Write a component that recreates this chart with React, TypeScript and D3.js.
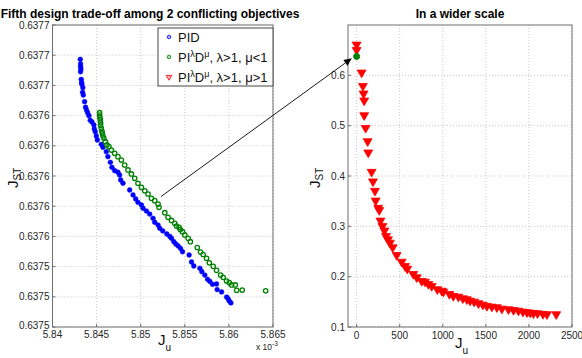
import React from "react";
import * as d3 from "d3";

// ---------- data (x in units of 1e-3 for the left panel) ----------
const pidX = [5.84315,5.84318,5.84318,5.84322,5.84318,5.84326,5.84330,5.84333,5.84344,5.84341,5.84349,5.84364,5.84375,5.84386,5.84398,5.84413,5.84428,5.84447,5.84469,5.84474,5.84485,5.84497,5.84508,5.84553,5.84572,5.84610,5.84628,5.84656,5.84674,5.84705,5.84742,5.84761,5.84773,5.84799,5.84875,5.84913,5.84943,5.84969,5.85008,5.85026,5.85065,5.85102,5.85140,5.85159,5.85197,5.85216,5.85250,5.85296,5.85330,5.85349,5.85375,5.85398,5.85424,5.85451,5.85474,5.85549,5.85576,5.85602,5.85671,5.85693,5.85727,5.85758,5.85784,5.85815,5.85860,5.85867,5.85917,5.85974,5.85992,5.86004,5.86023];
const pidY = [0.6376716,0.6376677,0.6376655,0.6376636,0.6376613,0.6376550,0.6376526,0.6376509,0.6376481,0.6376443,0.6376420,0.6376365,0.6376319,0.6376296,0.6376274,0.6376249,0.6376211,0.6376197,0.6376172,0.6376139,0.6376117,0.6376081,0.6376048,0.6376012,0.6375988,0.6375951,0.6375910,0.6375863,0.6375822,0.6375794,0.6375781,0.6375758,0.6375717,0.6375690,0.6375634,0.6375593,0.6375560,0.6375532,0.6375510,0.6375483,0.6375460,0.6375435,0.6375400,0.6375367,0.6375344,0.6375317,0.6375295,0.6375270,0.6375249,0.6375234,0.6375206,0.6375187,0.6375171,0.6375151,0.6375123,0.6375096,0.6375038,0.6375005,0.6374986,0.6374958,0.6374930,0.6374895,0.6374877,0.6374853,0.6374856,0.6374810,0.6374790,0.6374748,0.6374732,0.6374715,0.6374699];

const fopidLowX = [5.84534,5.84534,5.84538,5.84542,5.84545,5.84545,5.84553,5.84560,5.84565,5.84572,5.84583,5.84599,5.84617,5.84640,5.84667,5.84705,5.84742,5.84781,5.84818,5.84856,5.84894,5.84932,5.84969,5.85008,5.85046,5.85083,5.85122,5.85159,5.85197,5.85208,5.85273,5.85310,5.85349,5.85386,5.85406,5.85435,5.85449,5.85474,5.85500,5.85538,5.85563,5.85642,5.85678,5.85708,5.85747,5.85778,5.85822,5.85860,5.85906,5.85935,5.85974,5.86004,5.86031,5.86072,5.86088,5.86151,5.86417];
const fopidLowY = [0.6376274,0.6376255,0.6376233,0.6376214,0.6376191,0.6376170,0.6376145,0.6376122,0.6376103,0.6376081,0.6376062,0.6376034,0.6376007,0.6375993,0.6375965,0.6375938,0.6375910,0.6375882,0.6375841,0.6375800,0.6375767,0.6375731,0.6375690,0.6375656,0.6375628,0.6375601,0.6375565,0.6375546,0.6375518,0.6375491,0.6375446,0.6375408,0.6375382,0.6375358,0.6375336,0.6375325,0.6375307,0.6375289,0.6375262,0.6375234,0.6375206,0.6375158,0.6375121,0.6375100,0.6375069,0.6375032,0.6375002,0.6374969,0.6374930,0.6374911,0.6374881,0.6374867,0.6374848,0.6374848,0.6374804,0.6374806,0.6374800];

const fopidHighX = [0,0,58,73,81,88,88,105,128,135,174,190,213,221,251,263,277,300,323,341,364,387,419,465,523,562,588,658,698,756,794,833,872,937,988,1007,1077,1123,1181,1233,1279,1317,1364,1414,1465,1512,1570,1628,1686,1763,1821,1879,1930,1977,2015,2053,2100,2163,2209,2317];
const fopidHighY = [0.6609,0.6502,0.6054,0.5788,0.5637,0.5498,0.5206,0.4954,0.4690,0.4466,0.4081,0.3891,0.3704,0.3510,0.3367,0.3321,0.3113,0.3004,0.2915,0.2806,0.2740,0.2673,0.2581,0.2429,0.2296,0.2210,0.2157,0.2052,0.1986,0.1913,0.1899,0.1853,0.1813,0.1748,0.1720,0.1700,0.1655,0.1615,0.1601,0.1569,0.1550,0.1522,0.1502,0.1470,0.1442,0.1417,0.1403,0.1391,0.1363,0.1351,0.1337,0.1323,0.1304,0.1292,0.1284,0.1272,0.1272,0.1258,0.1252,0.1252];

const wideGreenX = [0.00585];
const wideGreenY = [0.6376];

const leftXTicks = [5.84, 5.845, 5.85, 5.855, 5.86, 5.865];
const leftXTickLabels = ["5.84", "5.845", "5.85", "5.855", "5.86", "5.865"];
const leftYTicks = [0.63745,0.637475,0.6375,0.637525,0.63755,0.637575,0.6376,0.637625,0.63765,0.637675,0.6377];
const leftYTickLabels = ["0.6375","0.6375","0.6375","0.6376","0.6376","0.6376","0.6376","0.6376","0.6377","0.6377","0.6377"];
const rightXTicks = [0, 500, 1000, 1500, 2000, 2500];
const rightYTicks = [0.1, 0.2, 0.3, 0.4, 0.5, 0.6];
const rightYTickLabels = ["0.1", "0.2", "0.3", "0.4", "0.5", "0.6"];

// arrow annotation: from a point in the left panel to the green point in the right panel
const arrowFrom = { x: 5.8523, y: 0.637558 };
const arrowTo = { x: -55, y: 0.634 };

const FONT = "'Liberation Sans', Arial, Helvetica, sans-serif";
const BLUE = "#0000ff";
const GREEN = "#008000";
const RED = "#ff0000";
const GRID = "#c8c8c8";
const FRAME = "#6e6e6e";

const lx = d3.scaleLinear().domain([5.84, 5.865]).range([52.5, 273]);
const ly = d3.scaleLinear().domain([0.63745, 0.6377]).range([327, 25]);
const rx = d3.scaleLinear().domain([-100, 2500]).range([348, 572]);
const ry = d3.scaleLinear().domain([0.1, 0.7]).range([327, 25]);

const triDown = d3.symbol().type(d3.symbolTriangle).size(34)();
const triSmall = d3.symbol().type(d3.symbolTriangle).size(14)();

function Frame({ x0, x1, y0, y1 }: { x0: number; x1: number; y0: number; y1: number }) {
  return <rect x={x0} y={y0} width={x1 - x0} height={y1 - y0} fill="none" stroke={FRAME} strokeWidth={1} />;
}

export default function App() {
  const L = { x0: lx.range()[0], x1: lx.range()[1], y0: 25, y1: 327 };
  const R = { x0: 348, x1: 572, y0: 25, y1: 327 };
  const ax = lx(arrowFrom.x), ay = ly(arrowFrom.y);
  const bx = rx(arrowTo.x), by = ry(arrowTo.y);
  const ang = Math.atan2(by - ay, bx - ax);
  const ah = 8, aw = 3.5;
  const hx = bx - ah * Math.cos(ang), hy = by - ah * Math.sin(ang);
  const head = `M${bx},${by} L${hx + aw * Math.sin(ang)},${hy - aw * Math.cos(ang)} L${hx - aw * Math.sin(ang)},${hy + aw * Math.cos(ang)} Z`;

  return (
    <svg width={582} height={358} style={{ position: "absolute", left: 0, top: 0, background: "#fff" }} fontFamily={FONT}>
      <rect width={582} height={358} fill="#fff" />
      {/* ---------- left panel ---------- */}
      <rect x={L.x0} y={L.y0} width={L.x1 - L.x0} height={L.y1 - L.y0} fill="#fff" />
      {leftXTicks.map((t, i) => (
        <line key={"lgx" + i} x1={lx(t)} x2={lx(t)} y1={L.y0} y2={L.y1} stroke={GRID} strokeDasharray="1,2" />
      ))}
      {leftYTicks.map((t, i) => (
        <line key={"lgy" + i} x1={L.x0} x2={L.x1} y1={ly(t)} y2={ly(t)} stroke={GRID} strokeDasharray="1,2" />
      ))}
      {leftXTicks.map((t, i) => (
        <g key={"ltx" + i}>
          <line x1={lx(t)} x2={lx(t)} y1={L.y1} y2={L.y1 - 3} stroke={FRAME} />
          <text x={lx(t)} y={L.y1 + 11} fontSize={10} textAnchor="middle" fill="#262626">{leftXTickLabels[i]}</text>
        </g>
      ))}
      {leftYTicks.map((t, i) => (
        <g key={"lty" + i}>
          <line x1={L.x0} x2={L.x0 + 3} y1={ly(t)} y2={ly(t)} stroke={FRAME} />
          <text x={L.x0 - 3} y={ly(t) + (i === 0 ? 2 : 3.5)} fontSize={10} textAnchor="end" fill="#262626">{leftYTickLabels[i]}</text>
        </g>
      ))}
      {pidX.map((x, i) => (
        <circle key={"p" + i} cx={lx(x)} cy={ly(pidY[i])} r={2.4} fill={BLUE} stroke={BLUE} strokeWidth={0.5} />
      ))}
      {fopidLowX.map((x, i) => (
        <circle key={"g" + i} cx={lx(x)} cy={ly(fopidLowY[i])} r={2.2} fill="none" stroke={GREEN} strokeWidth={1.3} />
      ))}
      <Frame {...L} />
      {/* legend */}
      <rect x={158} y={28} width={115} height={58} fill="#fff" stroke="#444" strokeWidth={1} />
      <circle cx={169} cy={37} r={1.8} fill="#aab0ff" stroke={BLUE} strokeWidth={0.8} />
      <text x={178} y={42} fontSize={13} fill="#111">PID</text>
      <circle cx={169} cy={57} r={1.8} fill="#b0d8b0" stroke={GREEN} strokeWidth={0.8} />
      <text x={178} y={62} fontSize={13} fill="#111">
        PI<tspan dy={-5} fontSize={9}>λ</tspan><tspan dy={5}>D</tspan><tspan dy={-5} fontSize={9}>μ</tspan><tspan dy={5}>, λ&gt;1, μ&lt;1</tspan>
      </text>
      <path d={triSmall} transform="translate(169,77) rotate(180)" fill="#ffb0b0" stroke={RED} strokeWidth={0.8} />
      <text x={178} y={82} fontSize={13} fill="#111">
        PI<tspan dy={-5} fontSize={9}>λ</tspan><tspan dy={5}>D</tspan><tspan dy={-5} fontSize={9}>μ</tspan><tspan dy={5}>, λ&gt;1, μ&gt;1</tspan>
      </text>
      {/* titles & labels */}
      <text x={150} y={18} fontSize={12} fontWeight="bold" textAnchor="middle" fill="#000">Fifth design trade-off among 2 conflicting objectives</text>
      <text x={460} y={18} fontSize={12} fontWeight="bold" textAnchor="middle" fill="#000">In a wider scale</text>
      <text x={158} y={345} fontSize={15} fill="#111">J<tspan dy={6} fontSize={10}>u</tspan></text>
      <text x={256} y={350} fontSize={8.5} fill="#222">x 10<tspan dy={-4} fontSize={6.5}>-3</tspan></text>
      <text transform="translate(18,188) rotate(-90)" fontSize={15} fill="#111">J<tspan dy={3} fontSize={10}>ST</tspan></text>

      {/* ---------- right panel ---------- */}
      <rect x={R.x0} y={R.y0} width={R.x1 - R.x0} height={R.y1 - R.y0} fill="#fff" />
      {rightXTicks.map((t, i) => (
        <line key={"rgx" + i} x1={rx(t)} x2={rx(t)} y1={R.y0} y2={R.y1} stroke={GRID} strokeDasharray="1,2" />
      ))}
      {rightYTicks.map((t, i) => (
        <line key={"rgy" + i} x1={R.x0} x2={R.x1} y1={ry(t)} y2={ry(t)} stroke={GRID} strokeDasharray="1,2" />
      ))}
      {rightXTicks.map((t, i) => (
        <g key={"rtx" + i}>
          <line x1={rx(t)} x2={rx(t)} y1={R.y1} y2={R.y1 - 3} stroke={FRAME} />
          <text x={rx(t)} y={R.y1 + 11.5} fontSize={10} textAnchor="middle" fill="#262626">{String(t)}</text>
        </g>
      ))}
      {rightYTicks.map((t, i) => (
        <g key={"rty" + i}>
          <line x1={R.x0} x2={R.x0 + 3} y1={ry(t)} y2={ry(t)} stroke={FRAME} />
          <text x={R.x0 - 3} y={ry(t) + 3.5} fontSize={10} textAnchor="end" fill="#262626">{rightYTickLabels[i]}</text>
        </g>
      ))}
      {fopidHighX.map((x, i) => (
        <path key={"r" + i} d={triDown} transform={`translate(${rx(x)},${ry(fopidHighY[i])}) rotate(180)`} fill={RED} stroke={RED} strokeWidth={0.8} />
      ))}
      {wideGreenX.map((x, i) => (
        <circle key={"wg" + i} cx={rx(x)} cy={ry(wideGreenY[i])} r={3} fill={GREEN} stroke={GREEN} />
      ))}
      <Frame {...R} />
      <text x={455} y={348} fontSize={15} fill="#111">J<tspan dy={6} fontSize={10}>u</tspan></text>
      <text transform="translate(320,188) rotate(-90)" fontSize={15} fill="#111">J<tspan dy={3} fontSize={10}>ST</tspan></text>

      {/* arrow */}
      <line x1={ax} y1={ay} x2={hx} y2={hy} stroke="#000" strokeWidth={0.9} />
      <path d={head} fill="#000" />
    </svg>
  );
}
